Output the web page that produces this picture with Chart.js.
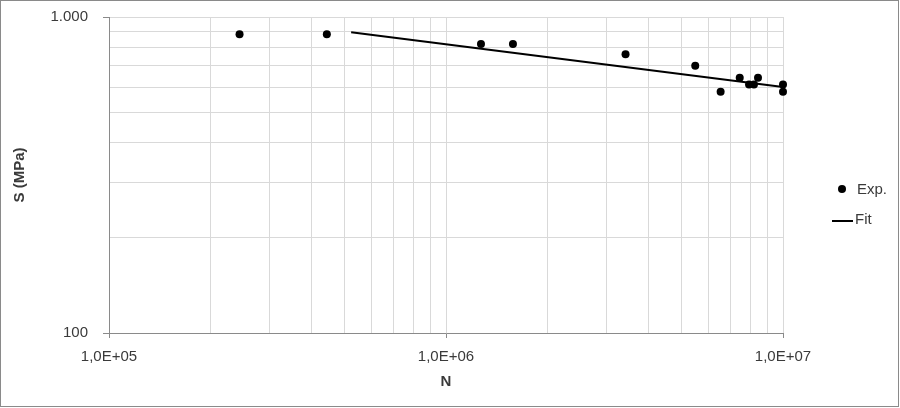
<!DOCTYPE html>
<html>
<head>
<meta charset="utf-8">
<script src="https://cdn.jsdelivr.net/npm/chart.js@4/dist/chart.umd.min.js"></script>
<style>
html,body{margin:0;padding:0;background:#fff;}
#wrap{position:relative;width:900px;height:408px;}
</style>
</head>
<body>
<div id="wrap"><canvas id="c" width="900" height="408"></canvas></div>
<script>
// Experimental points (N cycles, S MPa)
const expN = [2.44e5, 4.43e5, 1.27e6, 1.58e6, 3.41e6, 5.49e6, 6.53e6, 7.44e6, 7.93e6, 8.2e6, 8.43e6, 1e7, 1e7];
const expS = [882, 882, 821, 821, 762, 701, 580, 642, 612, 612, 642, 612, 580];
// Fit line end points
const fitN = [5.23e5, 1e7];
const fitS = [895, 600];
// Tick values (grid lines) and labels
const xTickValues = [1e5,2e5,3e5,4e5,5e5,6e5,7e5,8e5,9e5,1e6,2e6,3e6,4e6,5e6,6e6,7e6,8e6,9e6,1e7];
const yTickValues = [100,200,300,400,500,600,700,800,900,1000];
const xTickLabels = {"5": "1,0E+05", "6": "1,0E+06", "7": "1,0E+07"};
const yTickLabels = {"2": "100", "3": "1.000"};

const FONT = "'Liberation Sans', Arial, sans-serif";
const TXT = '#3a3a3a';

function isMajor(v){
  const l = Math.log10(v);
  return Math.abs(l - Math.round(l)) < 1e-9;
}

const legendAndBorder = {
  id: 'legendAndBorder',
  afterDraw(chart){
    const c = chart.ctx;
    c.save();
    c.strokeStyle = '#8a8a8a';
    c.lineWidth = 1;
    c.strokeRect(0.5, 0.5, 898, 406);
    // legend
    c.fillStyle = '#000';
    c.beginPath();
    c.arc(842, 189, 4, 0, Math.PI*2);
    c.fill();
    c.strokeStyle = '#000';
    c.lineWidth = 2;
    c.beginPath();
    c.moveTo(832, 221);
    c.lineTo(853, 221);
    c.stroke();
    c.fillStyle = TXT;
    c.font = "15px " + FONT;
    c.textBaseline = 'middle';
    c.textAlign = 'left';
    c.fillText('Exp.', 857, 190);
    c.fillText('Fit', 855, 220);
    c.restore();
  }
};

new Chart(document.getElementById('c'), {
  type: 'scatter',
  data: {
    datasets: [
      {
        label: 'Exp.',
        data: expN.map((n, i) => ({x: n, y: expS[i]})),
        pointRadius: 4,
        pointHoverRadius: 4,
        pointBackgroundColor: '#000',
        pointBorderColor: '#000',
        pointBorderWidth: 0,
        showLine: false,
        clip: false
      },
      {
        label: 'Fit',
        data: fitN.map((n, i) => ({x: n, y: fitS[i]})),
        showLine: true,
        borderColor: '#000',
        borderWidth: 2,
        pointRadius: 0,
        fill: false,
        clip: false
      }
    ]
  },
  options: {
    responsive: false,
    animation: false,
    layout: {padding: {top: 17, right: 117, left: 0, bottom: 0}},
    plugins: {legend: {display: false}, tooltip: {enabled: false}},
    scales: {
      x: {
        type: 'logarithmic',
        min: 1e5,
        max: 1e7,
        afterBuildTicks: s => { s.ticks = xTickValues.map(v => ({value: v})); },
        afterFit: s => { s.height = 75; s.paddingLeft = 0; s.paddingRight = 0; },
        ticks: {
          autoSkip: false,
          maxRotation: 0,
          padding: 10,
          color: TXT,
          font: {family: FONT, size: 15},
          callback: v => isMajor(v) ? xTickLabels[String(Math.round(Math.log10(v)))] : ''
        },
        grid: {
          color: '#d9d9d9',
          lineWidth: 1,
          tickLength: 5,
          tickColor: ctx => (ctx.tick && isMajor(ctx.tick.value)) ? '#8a8a8a' : 'rgba(0,0,0,0)'
        },
        border: {color: '#8a8a8a'},
        title: {
          display: true,
          text: 'N',
          color: TXT,
          font: {family: FONT, size: 15, weight: 'bold'},
          padding: {top: 0, bottom: 17}
        }
      },
      y: {
        type: 'logarithmic',
        min: 100,
        max: 1000,
        afterBuildTicks: s => { s.ticks = yTickValues.map(v => ({value: v})); },
        afterFit: s => { s.width = 109; s.paddingTop = 0; s.paddingBottom = 0; },
        ticks: {
          autoSkip: false,
          padding: 15,
          color: TXT,
          font: {family: FONT, size: 15},
          callback: v => isMajor(v) ? yTickLabels[String(Math.round(Math.log10(v)))] : ''
        },
        grid: {
          color: '#d9d9d9',
          lineWidth: 1,
          tickLength: 6,
          tickColor: ctx => (ctx.tick && isMajor(ctx.tick.value)) ? '#8a8a8a' : 'rgba(0,0,0,0)'
        },
        border: {color: '#8a8a8a'},
        title: {
          display: true,
          text: 'S (MPa)',
          color: TXT,
          font: {family: FONT, size: 15, weight: 'bold'},
          padding: {top: 11, bottom: 0}
        }
      }
    }
  },
  plugins: [legendAndBorder]
});
</script>
</body>
</html>
